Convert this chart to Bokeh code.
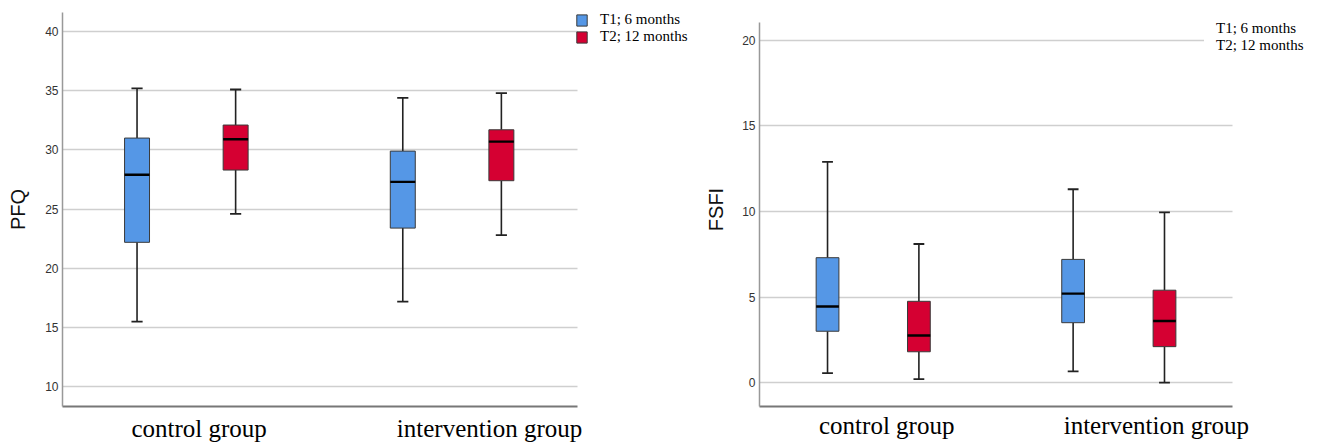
from bokeh.plotting import figure
from bokeh.models import ColumnDataSource, Range1d, FixedTicker, Legend, LegendItem
from bokeh.layouts import row
from bokeh.embed import file_html
from bokeh.resources import INLINE

# ---------------- data ----------------
groups = ["control group", "intervention group"]
series = ["T1; 6 months", "T2; 12 months"]
colors = ["#5597e6", "#d50032"]

pfq_t1_low = [15.5, 17.2]
pfq_t1_q1 = [22.2, 23.4]
pfq_t1_med = [27.9, 27.3]
pfq_t1_q3 = [31.0, 29.9]
pfq_t1_high = [35.2, 34.4]

pfq_t2_low = [24.6, 22.8]
pfq_t2_q1 = [28.3, 27.4]
pfq_t2_med = [30.9, 30.7]
pfq_t2_q3 = [32.1, 31.7]
pfq_t2_high = [35.1, 34.8]

fsfi_t1_low = [0.55, 0.65]
fsfi_t1_q1 = [3.0, 3.5]
fsfi_t1_med = [4.45, 5.2]
fsfi_t1_q3 = [7.3, 7.2]
fsfi_t1_high = [12.9, 11.3]

fsfi_t2_low = [0.2, 0.0]
fsfi_t2_q1 = [1.8, 2.1]
fsfi_t2_med = [2.75, 3.6]
fsfi_t2_q3 = [4.75, 5.4]
fsfi_t2_high = [8.1, 9.95]

pfq_ticks = [10, 15, 20, 25, 30, 35, 40]
fsfi_ticks = [0, 5, 10, 15, 20]

H = 444


def make_chart(ylabel, stats, yticks, yr, ybounds, xr, xbounds, width, left_border,
               label_shift, offset, box_w, cap_w, ylab_standoff, xlab_standoff,
               legend_kind, legend_loc):
    p = figure(width=width, height=H, output_backend="svg", toolbar_location=None,
               x_range=Range1d(*xr), y_range=Range1d(*yr),
               min_border_left=left_border, min_border_right=0,
               min_border_top=12, min_border_bottom=37,
               outline_line_color=None, background_fill_color="white",
               border_fill_color="white")
    p.xgrid.grid_line_color = None
    p.ygrid.ticker = FixedTicker(ticks=yticks)
    p.ygrid.grid_line_color = "#cfcfcf"
    p.ygrid.grid_line_width = 1.5
    p.ygrid.cross_bounds = xbounds

    gpos = [i + 1 for i in range(len(groups))]
    box_renderers = []
    for si, (low, q1, med, q3, high) in enumerate(stats):
        sign = -1 if si == 0 else 1
        xs = [g + sign * offset for g in gpos]
        src = ColumnDataSource(dict(
            x=xs, low=low, q1=q1, med=med, q3=q3, high=high,
            cl=[x - cap_w for x in xs], cr=[x + cap_w for x in xs],
            bl=[x - box_w / 2 for x in xs], br=[x + box_w / 2 for x in xs]))
        p.segment(x0="x", y0="low", x1="x", y1="q1", source=src,
                  line_color="#222222", line_width=1.6)
        p.segment(x0="x", y0="q3", x1="x", y1="high", source=src,
                  line_color="#222222", line_width=1.6)
        p.segment(x0="cl", y0="low", x1="cr", y1="low", source=src,
                  line_color="#222222", line_width=1.8)
        p.segment(x0="cl", y0="high", x1="cr", y1="high", source=src,
                  line_color="#222222", line_width=1.8)
        r = p.vbar(x="x", bottom="q1", top="q3", width=box_w, source=src,
                   fill_color=colors[si], line_color="#3a3a3a", line_width=1)
        box_renderers.append(r)
        p.segment(x0="bl", y0="med", x1="br", y1="med", source=src,
                  line_color="black", line_width=2.4)

    # x axis
    lab_pos = [g + s for g, s in zip(gpos, label_shift)]
    xa = p.xaxis[0]
    xa.ticker = FixedTicker(ticks=lab_pos)
    xa.major_label_overrides = {t: g for t, g in zip(lab_pos, groups)}
    xa.axis_label = None
    xa.major_tick_out = 0
    xa.major_tick_in = 0
    xa.minor_tick_out = 0
    xa.minor_tick_in = 0
    xa.major_tick_line_color = None
    xa.minor_tick_line_color = None
    xa.major_label_text_font = "Liberation Serif"
    xa.major_label_text_font_size = "25px"
    xa.major_label_text_color = "black"
    xa.major_label_standoff = xlab_standoff
    xa.axis_line_color = "#777777"
    xa.axis_line_width = 2
    xa.bounds = xbounds

    # y axis
    ya = p.yaxis[0]
    ya.ticker = FixedTicker(ticks=yticks)
    ya.major_tick_out = 0
    ya.major_tick_in = 0
    ya.minor_tick_out = 0
    ya.minor_tick_in = 0
    ya.major_tick_line_color = None
    ya.minor_tick_line_color = None
    ya.major_label_text_font = "Liberation Sans"
    ya.major_label_text_font_size = "12px"
    ya.major_label_text_color = "#333333"
    ya.major_label_standoff = 4
    ya.axis_line_color = "#999999"
    ya.axis_line_width = 1.5
    ya.bounds = ybounds
    ya.axis_label = ylabel
    ya.axis_label_text_font = "Liberation Sans"
    ya.axis_label_text_font_size = "20px"
    ya.axis_label_text_font_style = "normal"
    ya.axis_label_text_color = "#111111"
    ya.axis_label_standoff = ylab_standoff

    if legend_kind == "boxes":
        items = [LegendItem(label=series[i], renderers=[box_renderers[i]])
                 for i in range(len(series))]
        leg = Legend(items=items, location=legend_loc, padding=0, margin=0, spacing=0,
                     glyph_width=13, glyph_height=14, label_standoff=12, label_height=17,
                     label_text_font="Liberation Serif", label_text_font_size="15px",
                     label_text_color="black",
                     background_fill_alpha=0, border_line_color=None)
    else:
        dummy = p.vbar(x=[], top=[], width=0.1, fill_alpha=0, line_alpha=0)
        items = [LegendItem(label=s, renderers=[dummy]) for s in series]
        leg = Legend(items=items, location=legend_loc, padding=0, margin=0, spacing=0,
                     glyph_width=0, glyph_height=14, label_standoff=12, label_height=17,
                     label_text_font="Liberation Serif", label_text_font_size="15px",
                     label_text_color="black",
                     background_fill_color="white", background_fill_alpha=1,
                     border_line_color=None)
    p.add_layout(leg)
    return p


p1 = make_chart(
    "PFQ",
    [(pfq_t1_low, pfq_t1_q1, pfq_t1_med, pfq_t1_q3, pfq_t1_high),
     (pfq_t2_low, pfq_t2_q1, pfq_t2_med, pfq_t2_q3, pfq_t2_high)],
    pfq_ticks, (8.34, 41.6), (8.34, 41.6), (0.534, 2.916), (0.534, 2.472), 695, 62,
    [0.048, 0.141], 0.1855, 0.094, 0.021, 13, 8, "boxes", (513, 361))

p2 = make_chart(
    "FSFI",
    [(fsfi_t1_low, fsfi_t1_q1, fsfi_t1_med, fsfi_t1_q3, fsfi_t1_high),
     (fsfi_t2_low, fsfi_t2_q1, fsfi_t2_med, fsfi_t2_q3, fsfi_t2_high)],
    fsfi_ticks, (-1.399, 21.633), (-1.399, 21.05), (0.537, 2.809), (0.537, 2.463), 622, 64,
    [0.055, 0.153], 0.186, 0.0927, 0.022, 12, 5, "text", (445, 352))

layout = row(p1, p2)
open("out.html", "w").write(file_html(layout, INLINE))
